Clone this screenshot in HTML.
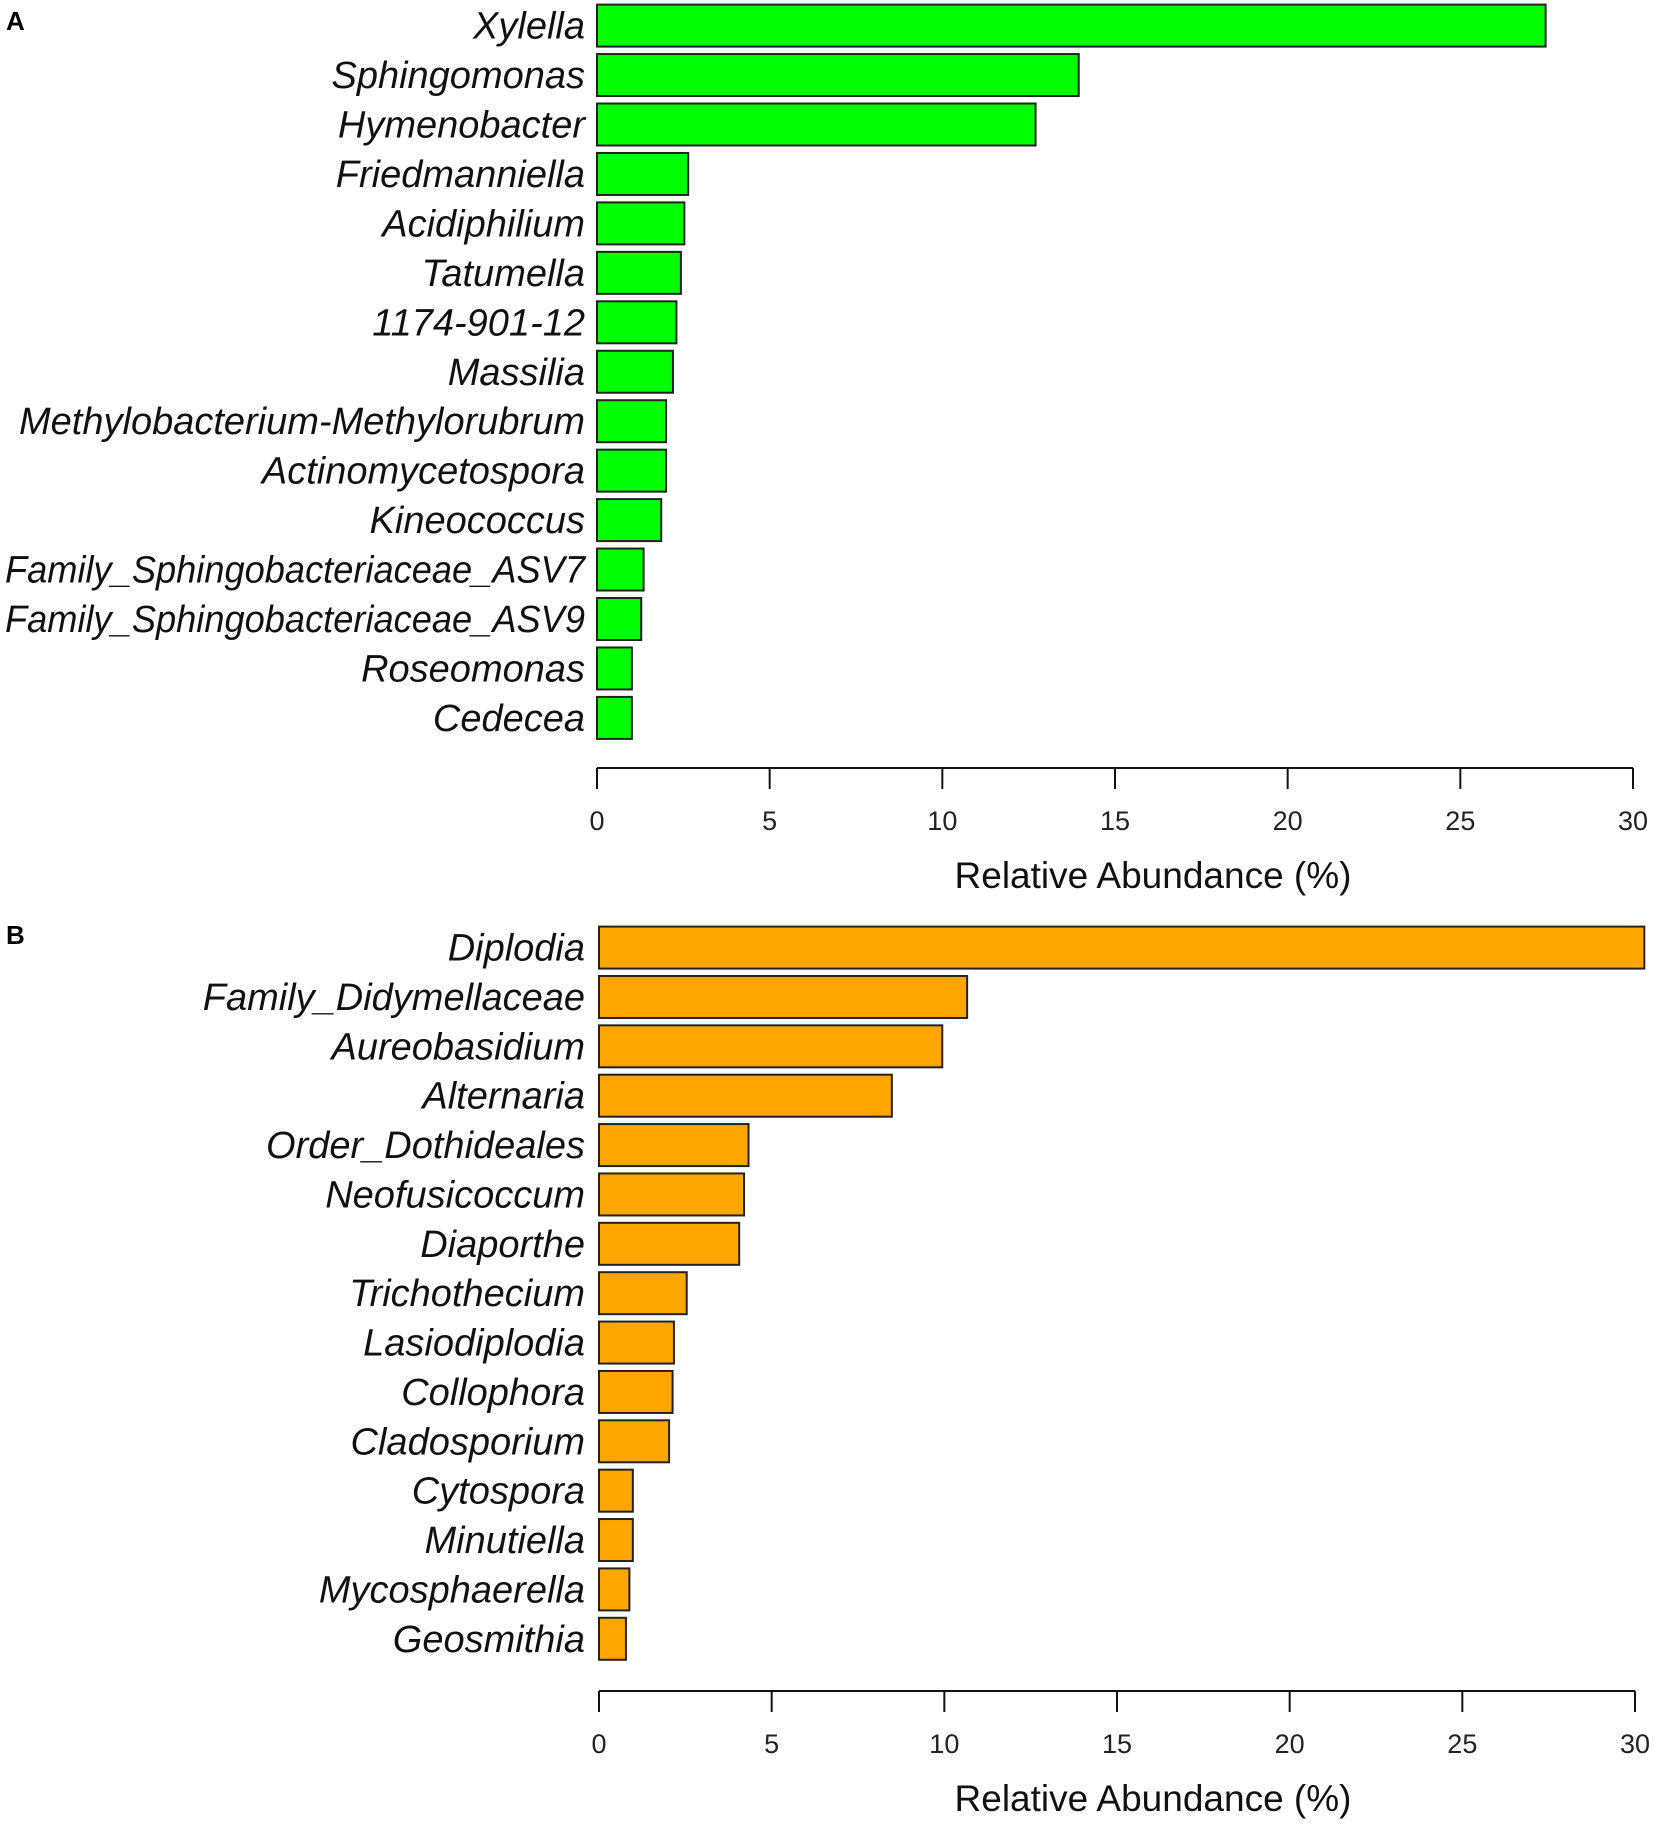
<!DOCTYPE html>
<html><head><meta charset="utf-8"><style>
html,body{margin:0;padding:0;background:#fff;}
svg{display:block;}
text{font-family:"Liberation Sans",sans-serif;}
</style></head><body>
<svg id="chart" width="1655" height="1830" viewBox="0 0 1655 1830" xmlns="http://www.w3.org/2000/svg"></svg>
<script>
const catsA = ["Xylella","Sphingomonas","Hymenobacter","Friedmanniella","Acidiphilium","Tatumella","1174-901-12","Massilia","Methylobacterium-Methylorubrum","Actinomycetospora","Kineococcus","Family_Sphingobacteriaceae_ASV7","Family_Sphingobacteriaceae_ASV9","Roseomonas","Cedecea"];
const valsA = [27.47,13.95,12.7,2.64,2.53,2.43,2.3,2.2,2.0,2.0,1.86,1.35,1.28,1.01,1.01];
const catsB = ["Diplodia","Family_Didymellaceae","Aureobasidium","Alternaria","Order_Dothideales","Neofusicoccum","Diaporthe","Trichothecium","Lasiodiplodia","Collophora","Cladosporium","Cytospora","Minutiella","Mycosphaerella","Geosmithia"];
const valsB = [30.27,10.66,9.94,8.48,4.33,4.2,4.06,2.54,2.17,2.13,2.03,0.98,0.98,0.88,0.78];
const ticks = [0,5,10,15,20,25,30];

const svg = document.getElementById('chart');
const NS = "http://www.w3.org/2000/svg";
function mk(tag, attrs, parent){const e=document.createElementNS(NS,tag);for(const k in attrs)e.setAttribute(k,attrs[k]);parent.appendChild(e);return e;}

function panel(key, letter, cats, vals, color, y0, step, axisY, x0){
  const g = mk('g',{},svg);
  
  
  const xs = v => x0 + v*(1633-597)/30;
  const ys = i => y0 + i*step;
  const lt = mk('text',{x:6,y:key==='a'?30:944,'font-size':26,'font-weight':'bold'},g);
  lt.textContent = letter;
  
  
  cats.forEach((c,i)=>{
    const cy = ys(i);
    const t = mk('text',{x:585,y:cy+13,'font-size':38,'font-style':'italic','text-anchor':'end',fill:'#111'},g);
    t.textContent = c;
    
    
    const w = t.getComputedTextLength();
    if (w > 580) { t.setAttribute('textLength', 580); t.setAttribute('lengthAdjust', 'spacingAndGlyphs'); }
    const r = mk('rect',{x:xs(0),y:cy-21,width:xs(vals[i])-xs(0),height:42,fill:color,stroke:'#222','stroke-width':2},g);
    
    
  });
  const ax = mk('line',{x1:xs(0),x2:xs(30),y1:axisY,y2:axisY,stroke:'#111','stroke-width':2},g);
  
  
  ticks.forEach(v=>{
    const tk = mk('line',{x1:xs(v),x2:xs(v),y1:axisY,y2:axisY+21,stroke:'#111','stroke-width':2},g);
    
    
    const tl = mk('text',{x:xs(v),y:axisY+62,'font-size':27,'text-anchor':'middle',fill:'#222'},g);
    tl.textContent = v;
    
    
  });
  const ti = mk('text',{x:1153,y:axisY+120,'font-size':37,'text-anchor':'middle',fill:'#111'},g);
  ti.textContent = 'Relative Abundance (%)';
  
  
}
panel('a','A',catsA,valsA,'#00ff00',25.6,49.45,768,597);
panel('b','B',catsB,valsB,'#ffa500',947.6,49.37,1691,599);
</script>
</body></html>
